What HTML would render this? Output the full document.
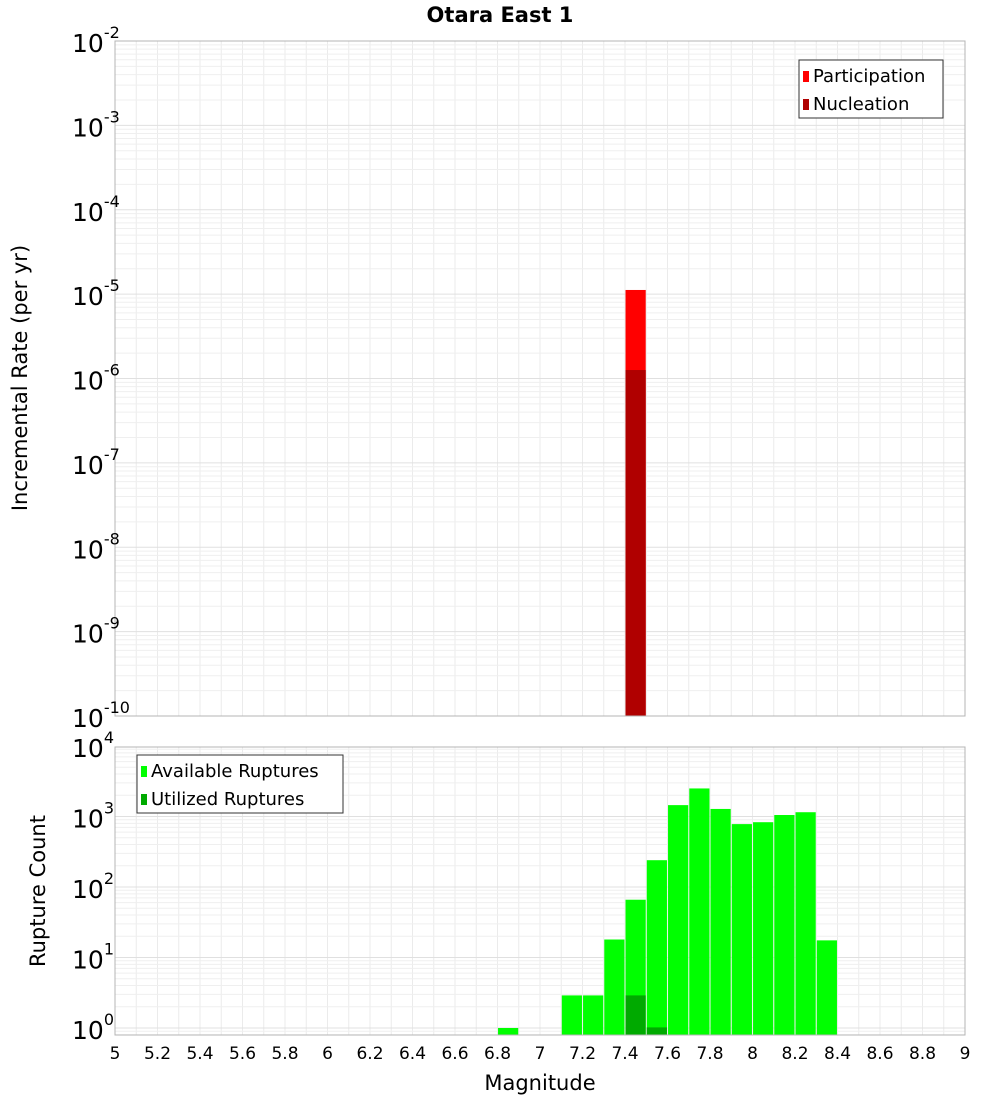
<!DOCTYPE html>
<html><head><meta charset="utf-8"><style>
body{margin:0;background:#fff;font-family:"Liberation Sans","DejaVu Sans",sans-serif}
</style></head><body>
<svg id="c" width="1000" height="1100" xmlns="http://www.w3.org/2000/svg" font-family="DejaVu Sans, Liberation Sans, sans-serif">
<text x="500" y="22" text-anchor="middle" font-size="21" font-weight="bold">Otara East 1</text>
<g id="g"></g>
</svg>
<script>
const topMags=[7.45];
const partRates=[1.12e-5];
const nuclRates=[1.26e-6];
const botMags=[6.85,7.15,7.25,7.35,7.45,7.55,7.65,7.75,7.85,7.95,8.05,8.15,8.25,8.35];
const availCounts=[1,2.9,2.9,18,66,240,1450,2500,1280,780,830,1050,1150,17.5];
const utilMags=[7.45,7.55];
const utilCounts=[2.9,1.02];
const xTicks=["5","5.2","5.4","5.6","5.8","6","6.2","6.4","6.6","6.8","7","7.2","7.4","7.6","7.8","8","8.2","8.4","8.6","8.8","9"];
const topExps=[-2,-3,-4,-5,-6,-7,-8,-9,-10];
const botExps=[4,3,2,1,0];

const NS="http://www.w3.org/2000/svg";
const g=document.getElementById('g');
function el(t,a,txt){const e=document.createElementNS(NS,t);for(const k in a)e.setAttribute(k,a[k]);if(txt!==undefined)e.textContent=txt;g.appendChild(e);return e;}
const X0=115,X1=965;
const x=m=>X0+(m-5)/4*(X1-X0);
const T0=41,T1=716;
const yT=v=>T1-(Math.log10(v)+10)*(T1-T0)/8;
const B0=747,B1=1035,Bzero=1028,Bdec=70.5;
const yB=v=>Bzero-Math.log10(v)*Bdec;

// grids
function grid(top,bot,yf,lo,hi){
  for(let m=5;m<=9.001;m+=0.1){const l=el('line',{x1:x(m),x2:x(m),y1:top,y2:bot,stroke:'#ebebeb','stroke-width':1});}
  for(let e=lo;e<hi;e++)for(let k=1;k<10;k++){const yy=yf(k*Math.pow(10,e));if(yy<top||yy>bot)continue;const l=el('line',{x1:X0,x2:X1,y1:yy,y2:yy,stroke:k==1?'#e0e0e0':'#efefef','stroke-width':1});}
}
grid(T0,T1,yT,-10,-2);
grid(B0,B1,yB,-1,4);

const bw=0.095*(X1-X0)/4;
// top bars
topMags.forEach((m,i)=>{
  const r=el('rect',{x:x(m)-bw/2,y:yT(partRates[i]),width:bw,height:T1-yT(partRates[i]),fill:'#ff0000'});
  
  const n=el('rect',{x:x(m)-bw/2,y:yT(nuclRates[i]),width:bw,height:T1-yT(nuclRates[i]),fill:'#b00000'});
  
});
// bottom bars
botMags.forEach((m,i)=>{
  const r=el('rect',{x:x(m)-bw/2,y:yB(availCounts[i]),width:bw,height:B1-yB(availCounts[i]),fill:'#00ff00'});
  
});
utilMags.forEach((m,i)=>{
  const r=el('rect',{x:x(m)-bw/2,y:yB(utilCounts[i]),width:bw,height:B1-yB(utilCounts[i]),fill:'#00aa00'});
  
});
// frames
let f=el('rect',{x:X0,y:T0,width:X1-X0,height:T1-T0,fill:'none',stroke:'#b4b4b4'});

f=el('rect',{x:X0,y:B0,width:X1-X0,height:B1-B0,fill:'none',stroke:'#b4b4b4'});

// y tick labels
function ylab(yy,e,name){
  const t=el('text',{x:72,y:yy+11,'font-size':25});
  
  t.textContent='10';
  const s=document.createElementNS(NS,'tspan');s.setAttribute('dy','-14');s.setAttribute('font-size','16');s.textContent=String(e);t.appendChild(s);
}
topExps.forEach(e=>ylab(yT(Math.pow(10,e)),e,'top-y-tick-label'));
botExps.forEach(e=>ylab(yB(Math.pow(10,e)),e,'bottom-y-tick-label'));
// x tick labels
xTicks.forEach(s=>{const t=el('text',{x:x(parseFloat(s)),y:1059,'font-size':17,'text-anchor':'middle'},s);});
let t=el('text',{x:540,y:1090,'font-size':21,'text-anchor':'middle'},'Magnitude');
t=el('text',{x:0,y:0,'font-size':21,'text-anchor':'middle',transform:'translate(27,378) rotate(-90)'},'Incremental Rate (per yr)');
t=el('text',{x:0,y:0,'font-size':21,'text-anchor':'middle',transform:'translate(45,891) rotate(-90)'},'Rupture Count');
// legends
function legend(lx,ly,w,items,name){
  const b=el('rect',{x:lx,y:ly,width:w,height:58,fill:'#fff',stroke:'#333'});
  items.forEach((it,i)=>{
    const s=el('rect',{x:lx+4,y:ly+11+i*28,width:6,height:11,fill:it[1]});
    const tt=el('text',{x:lx+14,y:ly+22+i*28,'font-size':18},it[0]);
  });
}
legend(799,60,144,[['Participation','#ff0000'],['Nucleation','#b00000']],'top-legend');
legend(137,755,206,[['Available Ruptures','#00ff00'],['Utilized Ruptures','#00aa00']],'bottom-legend');
</script>
</body></html>
